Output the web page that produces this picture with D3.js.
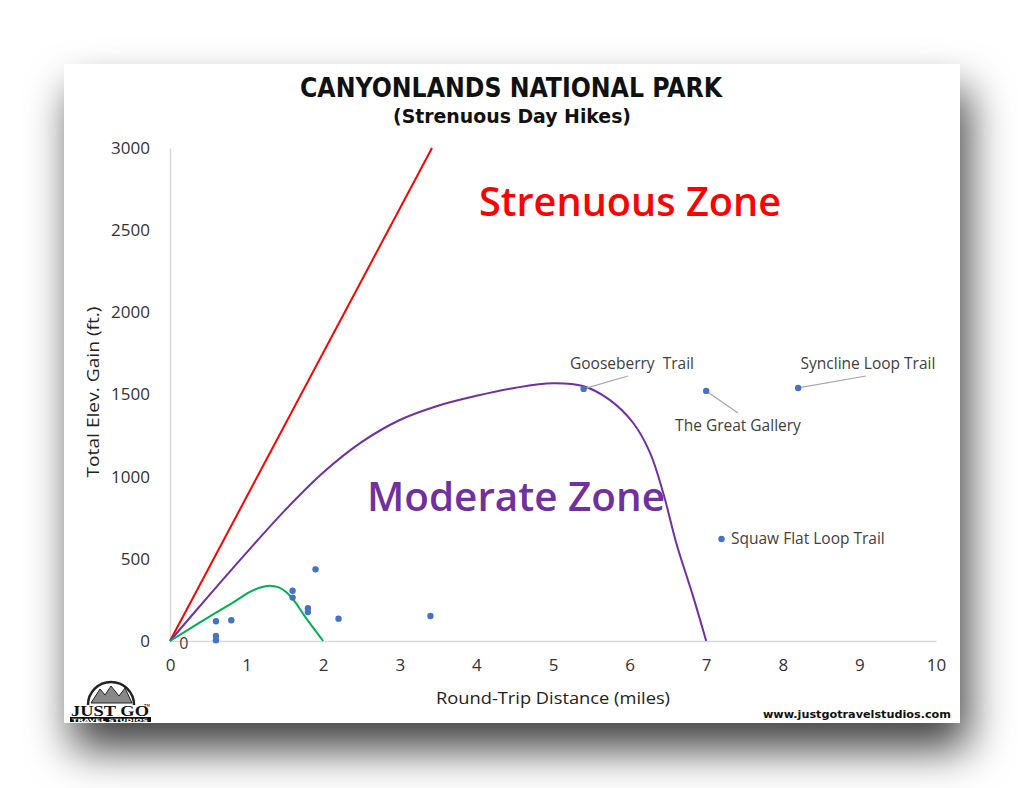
<!DOCTYPE html>
<html>
<head>
<meta charset="utf-8">
<script src="https://cdn.jsdelivr.net/npm/d3@7/dist/d3.min.js"></script>
<style>
  html, body { margin: 0; padding: 0; background: #ffffff; }
  svg { display: block; }
</style>
</head>
<body>
<svg id="chart" width="1024" height="788"></svg>
<script>
// ---------- data ----------
const xTicks = [0, 1, 2, 3, 4, 5, 6, 7, 8, 9, 10];
const yTicks = [0, 500, 1000, 1500, 2000, 2500, 3000];

// hikes: round-trip distance (miles), elevation gain (ft)
const hikeDistance = [0.6, 0.6, 0.6, 0.8, 1.6, 1.6, 1.8, 1.8, 1.9, 2.2, 3.4, 5.4, 7.0, 8.2, 7.2];
const hikeGain     = [120, 30, 5, 126, 306, 264, 199, 176, 436, 136, 152, 1534, 1522, 1540, 621];
const hikeName     = ["", "", "", "", "", "", "", "", "", "", "", "Gooseberry  Trail", "The Great Gallery", "Syncline Loop Trail", "Squaw Flat Loop Trail"];

// boundary lines
const strenuousX = [0, 3.42];
const strenuousY = [0, 3000];
const moderateX = [0, 0.5, 1.0, 1.5, 2.0, 2.5, 3.0, 3.5, 4.0, 4.5, 5.0, 5.4, 5.74, 6.05, 6.27, 6.44, 6.61, 6.83, 7.0];
const moderateY = [0, 272, 538, 795, 1025, 1210, 1345, 1432, 1492, 1540, 1568, 1550, 1467, 1325, 1142, 899, 595, 270, 0];
const easyX = [0, 0.37, 0.8, 1.05, 1.18, 1.3, 1.42, 1.52, 1.62, 1.76, 2.0];
const easyY = [0, 107, 228, 300, 326, 336, 326, 296, 245, 150, 0];

// ---------- layout ----------
const svg = d3.select("#chart");
const x = d3.scaleLinear().domain([0, 10]).range([170, 936]);
const y = d3.scaleLinear().domain([0, 3000]).range([641, 148]);

const defs = svg.append("defs");
const f = defs.append("filter").attr("id", "shadow")
  .attr("x", "-20%").attr("y", "-20%").attr("width", "140%").attr("height", "150%");
f.append("feDropShadow").attr("dx", 8).attr("dy", 26).attr("stdDeviation", 22)
  .attr("flood-color", "#000").attr("flood-opacity", 0.75);

// card
svg.append("rect").attr("x", 64).attr("y", 64).attr("width", 896).attr("height", 659)
  .attr("fill", "#fff").attr("filter", "url(#shadow)");
svg.append("rect").attr("x", 64).attr("y", 64).attr("width", 896).attr("height", 659)
  .attr("fill", "#fff");

// titles
svg.append("text").attr("x", 511).attr("y", 97).attr("text-anchor", "middle")
  .attr("font-family", "'Liberation Sans Narrow', 'DejaVu Sans Condensed', sans-serif")
  .attr("font-weight", "bold").attr("font-size", 26).attr("fill", "#111")
  .attr("textLength", 422).attr("lengthAdjust", "spacingAndGlyphs")
  .text("CANYONLANDS NATIONAL PARK");
svg.append("text").attr("x", 512).attr("y", 123).attr("text-anchor", "middle")
  .attr("font-family", "'Liberation Sans Narrow', 'DejaVu Sans Condensed', sans-serif")
  .attr("font-weight", "bold").attr("font-size", 20).attr("fill", "#111")
  .attr("textLength", 238).attr("lengthAdjust", "spacingAndGlyphs")
  .text("(Strenuous Day Hikes)");

// axes
const xAxis = d3.axisBottom(x).tickValues(xTicks).tickSize(0).tickPadding(18).tickSizeOuter(0);
const gx = svg.append("g").attr("transform", "translate(0,641)").call(xAxis);
const yAxis = d3.axisLeft(y).tickValues(yTicks).tickFormat(d3.format("d")).tickSize(0).tickPadding(20).tickSizeOuter(0);
const gy = svg.append("g").attr("transform", "translate(170,0)").call(yAxis);
[gx, gy].forEach(g => {
  g.select(".domain").attr("stroke", "#d9d9d9").attr("stroke-width", 1.5);
  g.selectAll("text").attr("font-family", "'Open Sans', sans-serif")
    .attr("font-size", 17).attr("fill", "#333");
});

// axis titles
svg.append("text").attr("x", 553).attr("y", 704).attr("text-anchor", "middle")
  .attr("font-family", "'Open Sans', sans-serif").attr("font-size", 17).attr("fill", "#222")
  .attr("textLength", 234).attr("lengthAdjust", "spacingAndGlyphs")
  .text("Round-Trip Distance (miles)");
svg.append("text").attr("transform", "translate(99,392) rotate(-90)").attr("text-anchor", "middle")
  .attr("font-family", "'Open Sans', sans-serif").attr("font-size", 17).attr("fill", "#222")
  .attr("textLength", 171).attr("lengthAdjust", "spacingAndGlyphs")
  .text("Total Elev. Gain (ft.)");

// zone labels
svg.append("text").attr("x", 630).attr("y", 216).attr("text-anchor", "middle")
  .attr("font-family", "'Open Sans', sans-serif").attr("font-weight", "600")
  .attr("font-size", 40).attr("fill", "#ff0000")
  .attr("textLength", 302).attr("lengthAdjust", "spacingAndGlyphs")
  .text("Strenuous Zone");
svg.append("text").attr("x", 516).attr("y", 511).attr("text-anchor", "middle")
  .attr("font-family", "'Open Sans', sans-serif").attr("font-weight", "600")
  .attr("font-size", 40).attr("fill", "#7030a0")
  .attr("textLength", 298).attr("lengthAdjust", "spacingAndGlyphs")
  .text("Moderate Zone");

// lines
const smooth = d3.line().x(d => x(d[0])).y(d => y(d[1])).curve(d3.curveCatmullRom.alpha(0.5));
const linLine = d3.line().x(d => x(d[0])).y(d => y(d[1]));
svg.append("path").datum(d3.zip(strenuousX, strenuousY)).attr("d", linLine)
  .attr("fill", "none").attr("stroke", "#ff0000").attr("stroke-width", 2);
svg.append("path").datum(d3.zip(moderateX, moderateY)).attr("d", smooth)
  .attr("fill", "none").attr("stroke", "#7030a0").attr("stroke-width", 2);
svg.append("path").datum(d3.zip(easyX, easyY)).attr("d", smooth)
  .attr("fill", "none").attr("stroke", "#00b050").attr("stroke-width", 2);

// "0" label near origin
svg.append("text").attr("x", x(0.18)).attr("y", y(0) + 8).attr("text-anchor", "middle")
  .attr("font-family", "'Open Sans', sans-serif").attr("font-size", 16).attr("fill", "#404040")
  .text("0");

// data labels with leader lines
const hikes = hikeDistance.map((d, i) => ({ d, g: hikeGain[i], name: hikeName[i] }));
const labelPos = {
  "Gooseberry  Trail": { lx: 632, ly: 369, anchor: "middle", leader: [628, 376] },
  "The Great Gallery": { lx: 738, ly: 431, anchor: "middle", leader: [738, 413] },
  "Syncline Loop Trail": { lx: 868, ly: 369, anchor: "middle", leader: [866, 376] },
  "Squaw Flat Loop Trail": { lx: 731, ly: 544, anchor: "start", leader: null }
};
hikes.filter(h => h.name && labelPos[h.name].leader).forEach(h => {
  const p = labelPos[h.name];
  svg.append("line").attr("x1", x(h.d)).attr("y1", y(h.g)).attr("x2", p.leader[0]).attr("y2", p.leader[1])
    .attr("stroke", "#a6a6a6").attr("stroke-width", 1.2);
});
svg.append("g").selectAll("circle").data(hikes).join("circle")
  .attr("cx", d => x(d.d)).attr("cy", d => y(d.g)).attr("r", 3.2).attr("fill", "#4472c4");
hikes.filter(h => h.name).forEach(h => {
  const p = labelPos[h.name];
  svg.append("text").attr("x", p.lx).attr("y", p.ly).attr("text-anchor", p.anchor)
    .attr("font-family", "'Open Sans', sans-serif").attr("font-size", 15.5).attr("fill", "#404040")
    .attr("xml:space", "preserve")
    .text(h.name);
});

// website
svg.append("text").attr("x", 951).attr("y", 718).attr("text-anchor", "end")
  .attr("font-family", "'DejaVu Sans', sans-serif").attr("font-weight", "bold")
  .attr("font-size", 11).attr("fill", "#111")
  .attr("textLength", 188).attr("lengthAdjust", "spacingAndGlyphs")
  .text("www.justgotravelstudios.com");

// logo
const logo = svg.append("g");
logo.append("path").attr("d", "M88,705 A23,23 0 0 1 134,705")
  .attr("fill", "none").attr("stroke", "#222").attr("stroke-width", 2.5);
logo.append("path").attr("d", "M91,703 L100,689 L105,695 L111,686 L119,696 L125,688 L132,703 Z")
  .attr("fill", "#888").attr("stroke", "#222").attr("stroke-width", 1);
logo.append("text").attr("x", 110).attr("y", 716).attr("text-anchor", "middle")
  .attr("font-family", "'Liberation Serif', serif").attr("font-weight", "bold")
  .attr("font-size", 14).attr("fill", "#111")
  .attr("textLength", 78).attr("lengthAdjust", "spacingAndGlyphs")
  .text("JUST GO");
logo.append("rect").attr("x", 70).attr("y", 717).attr("width", 81).attr("height", 5).attr("fill", "#111");
logo.append("text").attr("x", 110).attr("y", 721.5).attr("text-anchor", "middle")
  .attr("font-family", "'DejaVu Sans', sans-serif").attr("font-weight", "bold")
  .attr("font-size", 4.5).attr("fill", "#fff")
  .attr("textLength", 76).attr("lengthAdjust", "spacingAndGlyphs")
  .text("TRAVEL STUDIOS");
logo.append("text").attr("x", 144).attr("y", 707).attr("font-family", "'DejaVu Sans', sans-serif")
  .attr("font-size", 4).attr("fill", "#111").text("TM");
</script>
</body>
</html>
